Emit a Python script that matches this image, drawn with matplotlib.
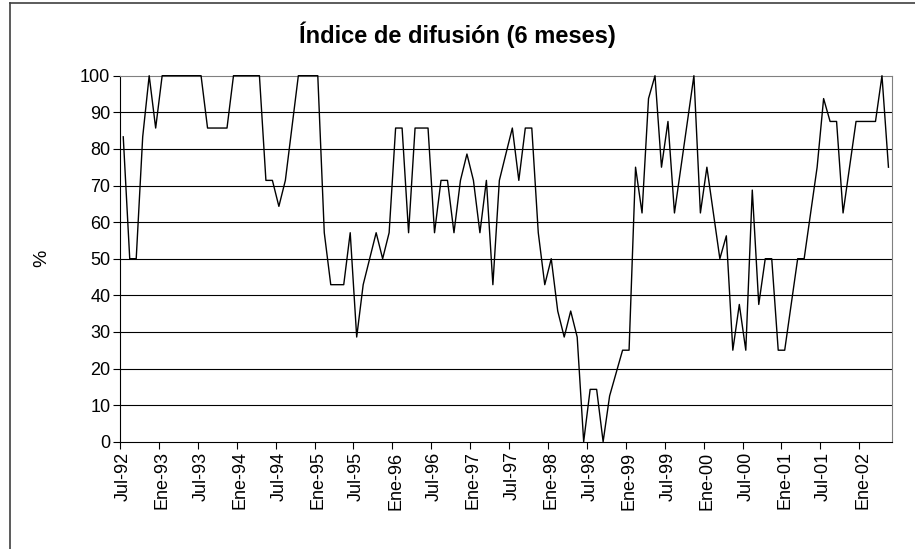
import matplotlib
matplotlib.use("Agg")
import matplotlib.pyplot as plt
from matplotlib.lines import Line2D

plt.rcParams["font.family"] = ["Liberation Sans", "DejaVu Sans"]

# Diffusion index, monthly from Jul-92 to May-02 (%)
valores = [
    83.3, 50.0, 50.0, 83.3, 100.0, 85.7,
    100.0, 100.0, 100.0, 100.0, 100.0, 100.0,
    100.0, 85.7, 85.7, 85.7, 85.7, 100.0,
    100.0, 100.0, 100.0, 100.0, 71.4, 71.4,
    64.3, 71.4, 85.7, 100.0, 100.0, 100.0,
    100.0, 57.1, 42.9, 42.9, 42.9, 57.1,
    28.6, 42.9, 50.0, 57.1, 50.0, 57.1,
    85.7, 85.7, 57.1, 85.7, 85.7, 85.7,
    57.1, 71.4, 71.4, 57.1, 71.4, 78.6,
    71.4, 57.1, 71.4, 42.9, 71.4, 78.6,
    85.7, 71.4, 85.7, 85.7, 57.1, 42.9,
    50.0, 35.7, 28.6, 35.7, 28.6, 0.0,
    14.3, 14.3, 0.0, 12.5, 18.75, 25.0,
    25.0, 75.0, 62.5, 93.75, 100.0, 75.0,
    87.5, 62.5, 75.0, 87.5, 100.0, 62.5,
    75.0, 62.5, 50.0, 56.25, 25.0, 37.5,
    25.0, 68.75, 37.5, 50.0, 50.0, 25.0,
    25.0, 37.5, 50.0, 50.0, 62.5, 75.0,
    93.75, 87.5, 87.5, 62.5, 75.0, 87.5,
    87.5, 87.5, 87.5, 100.0, 75.0,
]

etiquetas = ["Jul-92", "Ene-93", "Jul-93", "Ene-94", "Jul-94", "Ene-95",
             "Jul-95", "Ene-96", "Jul-96", "Ene-97", "Jul-97", "Ene-98",
             "Jul-98", "Ene-99", "Jul-99", "Ene-00", "Jul-00", "Ene-01",
             "Jul-01", "Ene-02"]

W, H = 915, 549
fig = plt.figure(figsize=(W / 100, H / 100), dpi=100)
ax = fig.add_axes([120 / W, 1 - 441.7 / H, (891.7 - 120) / W, (441.7 - 75.7) / H])

x = list(range(len(valores)))
ax.plot(x, valores, color="black", linewidth=1.0, clip_on=False, zorder=3)

ax.set_xlim(-0.5, len(valores) - 0.5)
ax.set_ylim(0, 100)

# y axis
ax.set_yticks(range(0, 101, 10))
ax.tick_params(axis="y", direction="out", length=5, width=0.8, pad=2, labelsize=13)
for v in range(10, 100, 10):
    ax.axhline(v, color="black", linewidth=0.8, zorder=0)

# x axis: labels on the category, tick marks between categories
pos = [6 * k for k in range(len(etiquetas))]
ax.set_xticks(pos)
ax.set_xticklabels(etiquetas, rotation=90, fontsize=13)
ax.tick_params(axis="x", which="major", length=0, pad=7)
ax.set_xticks([p - 0.5 for p in pos], minor=True)
ax.tick_params(axis="x", which="minor", direction="out", length=5, width=0.8)

for s in ["left", "bottom"]:
    ax.spines[s].set_color("black")
    ax.spines[s].set_linewidth(0.8)
for s in ["top", "right"]:
    ax.spines[s].set_color("#808080")
    ax.spines[s].set_linewidth(0.8)

fig.text(42 / W, 1 - 258.7 / H, "%", rotation=90, ha="center", va="center", fontsize=14)

fig.text(0.5, 1 - 35 / H, "Índice de difusión (6 meses)", ha="center", va="center",
         fontsize=17, fontweight="bold")

# chart border (cut off at right and bottom)
fig.add_artist(Line2D([10 / W, 10 / W], [0, 1 - 2.5 / H], color="#404040", linewidth=1.2,
                      transform=fig.transFigure))
fig.add_artist(Line2D([10 / W, 1], [1 - 2.5 / H, 1 - 2.5 / H], color="#404040", linewidth=1.2,
                      transform=fig.transFigure))

fig.savefig("out.png", dpi=100)
